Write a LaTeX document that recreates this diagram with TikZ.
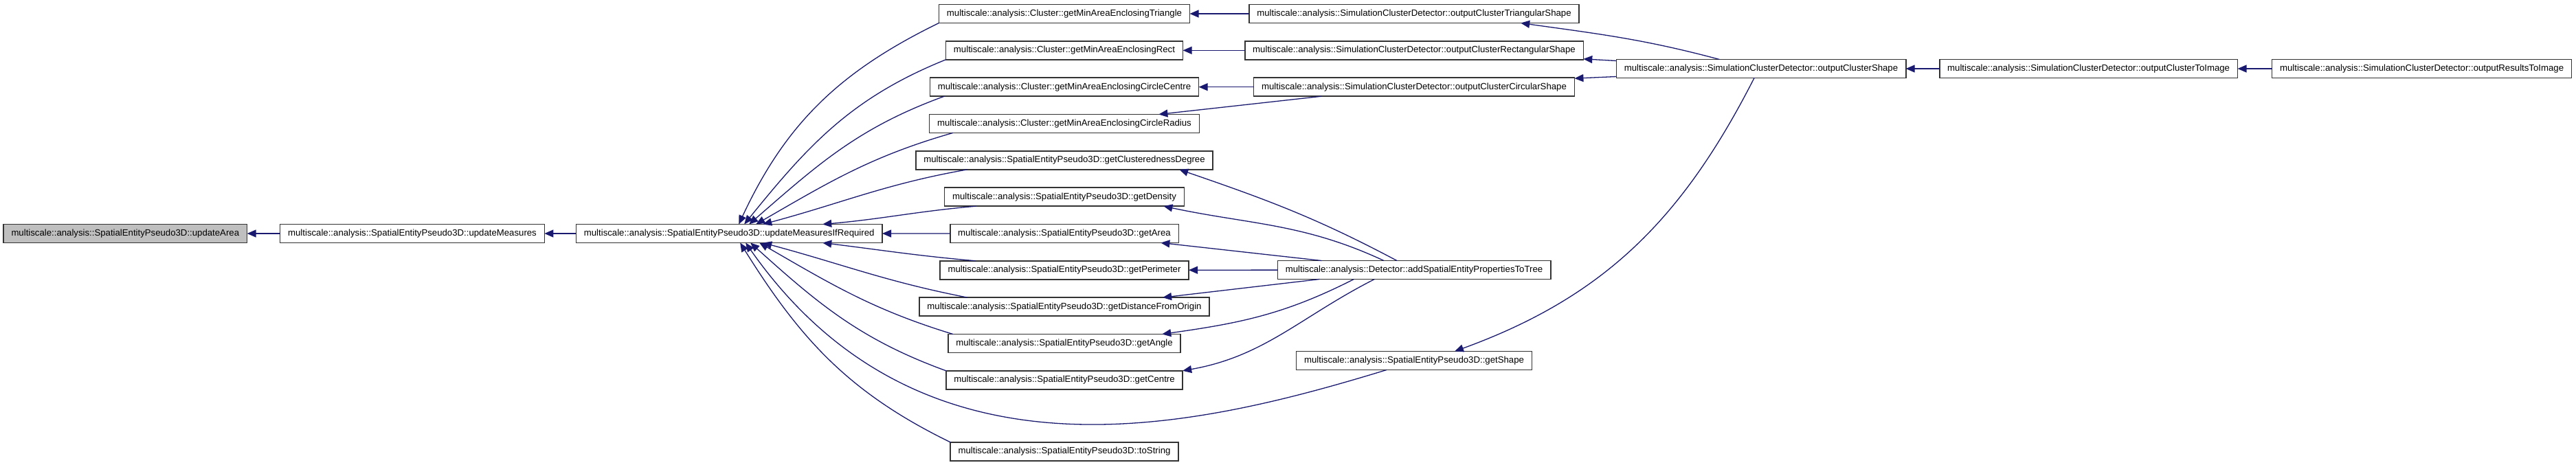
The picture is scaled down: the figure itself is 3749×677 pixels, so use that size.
\documentclass[tikz,border=0pt]{standalone}
\usepackage{fontspec}
\setmainfont{Liberation Sans}
\usepackage{tikz}
\usetikzlibrary{positioning}
\usetikzlibrary{arrows.meta}
\definecolor{callcolor}{RGB}{25, 25, 112}
\definecolor{leafcolor}{RGB}{191, 191, 191}
\tikzstyle{fn} = [
	draw=black!80,
	line width=1.6pt,
	fill=white,
	minimum height=27pt,
	inner xsep=11.5pt,
	inner ysep=0pt,
	outer sep=0pt,
	font=\fontsize{13.2pt}{15pt}\selectfont
]
\tikzstyle{leaf} = [
	fn,
	fill=leafcolor
]
\tikzstyle{calls} = [
	draw=callcolor,
	line width=1.3pt,
	-{Triangle[length=13pt, width=11pt]}
]

\begin{document}
\begin{tikzpicture}[x=1pt, y=1pt, node distance=26.33pt]
	\useasboundingbox (0,0) rectangle (3749,-677);

	%
	% Main chain
	\node[leaf, anchor=west] at (5,-340) (updArea) {multiscale::analysis::SpatialEntityPseudo3D::updateArea};
	\node[fn, right=48pt of updArea] (updMeas) {multiscale::analysis::SpatialEntityPseudo3D::updateMeasures};
	\node[fn, right=46pt of updMeas] (updMIR) {multiscale::analysis::SpatialEntityPseudo3D::updateMeasuresIfRequired};

	%
	% Callers of updateMeasuresIfRequired
	\node[fn] at (1549,-20) (cTri) {multiscale::analysis::Cluster::getMinAreaEnclosingTriangle};
	\node[fn, below=of cTri] (cRect) {multiscale::analysis::Cluster::getMinAreaEnclosingRect};
	\node[fn, below=of cRect] (cCentre) {multiscale::analysis::Cluster::getMinAreaEnclosingCircleCentre};
	\node[fn, below=of cCentre] (cRadius) {multiscale::analysis::Cluster::getMinAreaEnclosingCircleRadius};
	\node[fn, below=of cRadius] (sClust) {multiscale::analysis::SpatialEntityPseudo3D::getClusterednessDegree};
	\node[fn, below=of sClust] (sDens) {multiscale::analysis::SpatialEntityPseudo3D::getDensity};
	\node[fn, below=of sDens] (sArea) {multiscale::analysis::SpatialEntityPseudo3D::getArea};
	\node[fn, below=of sArea] (sPerim) {multiscale::analysis::SpatialEntityPseudo3D::getPerimeter};
	\node[fn, below=of sPerim] (sDist) {multiscale::analysis::SpatialEntityPseudo3D::getDistanceFromOrigin};
	\node[fn, below=of sDist] (sAngle) {multiscale::analysis::SpatialEntityPseudo3D::getAngle};
	\node[fn, below=of sAngle] (sCentre) {multiscale::analysis::SpatialEntityPseudo3D::getCentre};
	\node[fn, below=77pt of sCentre] (sString) {multiscale::analysis::SpatialEntityPseudo3D::toString};

	%
	% Detector column
	\node[fn] at (2058,-20) (oTri) {multiscale::analysis::SimulationClusterDetector::outputClusterTriangularShape};
	\node[fn, below=of oTri] (oRect) {multiscale::analysis::SimulationClusterDetector::outputClusterRectangularShape};
	\node[fn, below=of oRect] (oCirc) {multiscale::analysis::SimulationClusterDetector::outputClusterCircularShape};
	\node[fn] at (2058,-393) (dTree) {multiscale::analysis::Detector::addSpatialEntityPropertiesToTree};
	\node[fn] at (2058,-525) (sShape) {multiscale::analysis::SpatialEntityPseudo3D::getShape};

	%
	% Image output
	\node[fn] at (2563,-100) (oShape) {multiscale::analysis::SimulationClusterDetector::outputClusterShape};
	\node[fn, right=49pt of oShape] (oImage) {multiscale::analysis::SimulationClusterDetector::outputClusterToImage};
	\node[fn, right=50pt of oImage] (oResults) {multiscale::analysis::SimulationClusterDetector::outputResultsToImage};

	%
	% Calls

	% chain
	\draw[calls] (updMeas) -- (updArea);
	\draw[calls] (updMIR) -- (updMeas);
	\draw[calls] (oImage) -- (oShape);
	\draw[calls] (oResults) -- (oImage);

	% into updateMeasuresIfRequired
	\draw[calls] (cTri.south west) to[out=206, in=65] ([xshift=14pt]updMIR.north);
	\draw[calls] (cRect.south west) to[out=202, in=51] ([xshift=22pt]updMIR.north);
	\draw[calls] ([xshift=21pt]cCentre.south west) to[out=200, in=41] ([xshift=29pt]updMIR.north);
	\draw[calls] ([xshift=34pt]cRadius.south west) to[out=196, in=30] ([xshift=39pt]updMIR.north);
	\draw[calls] ([xshift=75pt]sClust.south west) to[out=190, in=15] ([xshift=49pt]updMIR.north);
	\draw[calls] ([xshift=46pt]sDens.south west) to[out=185, in=5] ([xshift=136pt]updMIR.north);
	\draw[calls] (sArea) -- (updMIR);
	\draw[calls] ([xshift=52pt]sPerim.north west) to[out=175, in=-7] ([xshift=136pt]updMIR.south);
	\draw[calls] ([xshift=70pt]sDist.north west) to[out=169, in=-15] ([xshift=49pt]updMIR.south);
	\draw[calls] ([xshift=7pt]sAngle.north west) to[out=163, in=-30] ([xshift=44pt]updMIR.south);
	\draw[calls] (sCentre.north west) to[out=160, in=-42] ([xshift=31pt]updMIR.south);
	\draw[calls] ([xshift=-40pt]sShape.south) to[out=197, in=305, out looseness=0.8, in looseness=1.2] ([xshift=24pt]updMIR.south);
	\draw[calls] (sString.north west) to[out=154, in=-58] ([xshift=16pt]updMIR.south);

	% detector to getters
	\draw[calls] (oTri) -- (cTri);
	\draw[calls] (oRect) -- (cRect);
	\draw[calls] (oCirc) -- (cCentre);
	\draw[calls] ([xshift=99pt]oCirc.south west) -- ([xshift=-59pt]cRadius.north east);
	\draw[calls] ([xshift=-25pt]dTree.north) to[out=152, in=-19] ([xshift=-49pt]sClust.south east);
	\draw[calls] ([xshift=-44pt]dTree.north) to[out=155, in=-12] ([xshift=-30pt]sDens.south east);
	\draw[calls] ([xshift=64pt]dTree.north west) -- ([xshift=-26pt]sArea.south east);
	\draw[calls] (dTree) -- (sPerim);
	\draw[calls] ([xshift=61pt]dTree.south west) -- ([xshift=-68pt]sDist.north east);
	\draw[calls] ([xshift=111pt]dTree.south west) to[out=207, in=8] ([xshift=-27pt]sAngle.north east);
	\draw[calls] ([xshift=141pt]dTree.south west) to[out=207, in=10] (sCentre.north east);

	% outputClusterShape
	\draw[calls] ([xshift=150pt]oShape.north west) to[out=165, in=-8] ([xshift=-85pt]oTri.south east);
	\draw[calls] ([yshift=-2pt]oShape.north west) -- ([yshift=1pt]oRect.south east);
	\draw[calls] ([yshift=2pt]oShape.south west) -- ([yshift=-1pt]oCirc.north east);
	\draw[calls] ([xshift=-10pt]oShape.south) to[out=243, in=20] ([xshift=59pt]sShape.north);

\end{tikzpicture}
\end{document}
